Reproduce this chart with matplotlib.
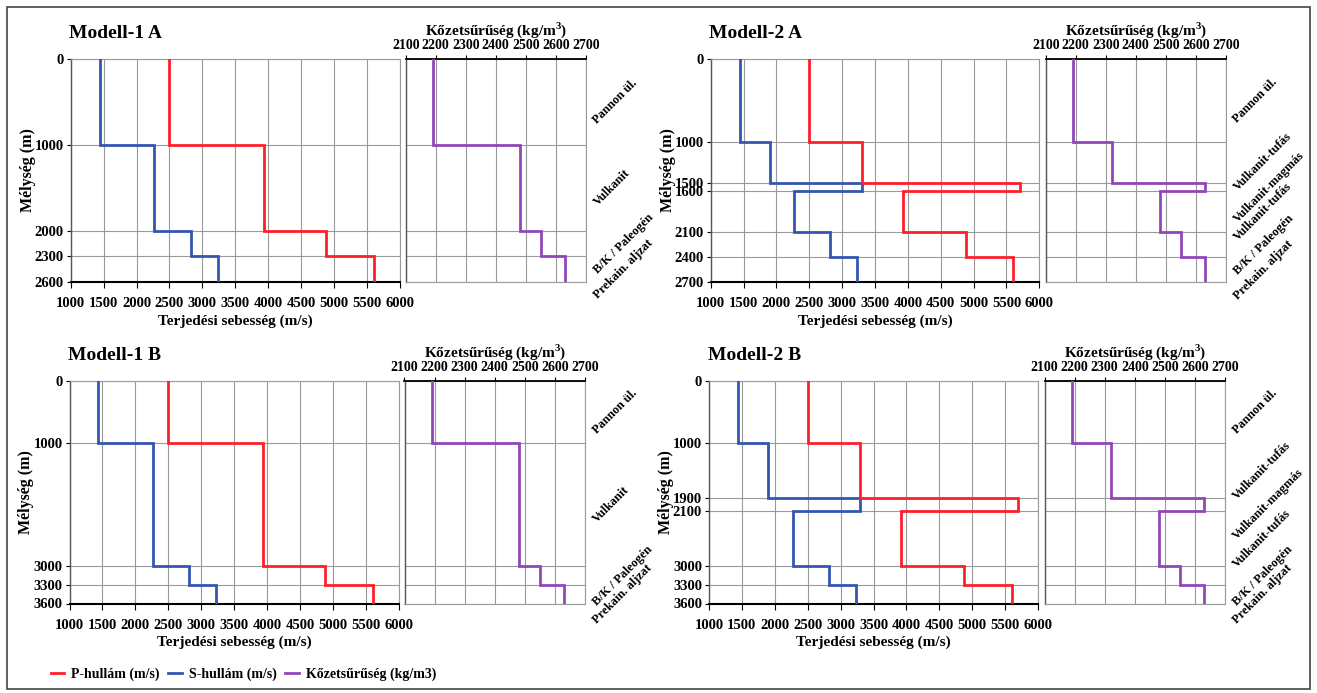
import numpy as np
import matplotlib
matplotlib.use("Agg")
import matplotlib.pyplot as plt
from matplotlib.lines import Line2D
from matplotlib.patches import Rectangle
import matplotlib.transforms as mtransforms

# ---------------- data ----------------
layers_1 = ["Pannon ül.", "Vulkanit", "B/K / Paleogén", "Prekain. aljzat"]
depth_1A = [0, 1000, 2000, 2300, 2600]
depth_1B = [0, 1000, 3000, 3300, 3600]
vp_1 = [2500, 3930, 4880, 5600]
vs_1 = [1440, 2270, 2820, 3230]
rho_1 = [2190, 2480, 2550, 2630]

layers_2 = ["Pannon ül.", "Vulkanit-tufás", "Vulkanit-magmás", "Vulkanit-tufás",
            "B/K / Paleogén", "Prekain. aljzat"]
depth_2A = [0, 1000, 1500, 1600, 2100, 2400, 2700]
depth_2B = [0, 1000, 1900, 2100, 3000, 3300, 3600]
vp_2 = [2500, 3300, 5700, 3920, 4880, 5600]
vs_2 = [1440, 1900, 3300, 2270, 2820, 3230]
rho_2 = [2190, 2320, 2630, 2480, 2550, 2630]

titles = ["Modell-1 A", "Modell-2 A", "Modell-1 B", "Modell-2 B"]
vel_ticks = [1000, 1500, 2000, 2500, 3000, 3500, 4000, 4500, 5000, 5500, 6000]
rho_ticks = [2100, 2200, 2300, 2400, 2500, 2600, 2700]

xlabel_vel = "Terjedési sebesség (m/s)"
ylabel = "Mélység (m)"
xlabel_rho = r"Kőzetsűrűség (kg/m$^{\mathbf{3}}$)"
legend_labels = ["P-hullám (m/s)", "S-hullám (m/s)", "Kőzetsűrűség (kg/m3)"]

C_P = "#ff1f2b"
C_S = "#3556b0"
C_R = "#8f47b8"
GRID = "#9a9a9a"

# ---------------- style ----------------
plt.rcParams["font.family"] = ["Liberation Serif", "DejaVu Serif"]
plt.rcParams["font.weight"] = "bold"
plt.rcParams["axes.labelweight"] = "bold"
plt.rcParams["mathtext.fontset"] = "custom"
plt.rcParams["mathtext.rm"] = "Liberation Serif:bold"
plt.rcParams["mathtext.bf"] = "Liberation Serif:bold"

W, H = 1317, 693
fig = plt.figure(figsize=(W / 100, H / 100), dpi=100)

VEL_FS = 10.5
RHO_FS = 10
LABEL_FS = 11


def pos(l, r, t, b):
    return [l / W, 1 - b / H, (r - l) / W, (b - t) / H]


def step_xy(vals, depths):
    xs = np.repeat(np.asarray(vals, float), 2)
    d = np.asarray(depths, float)
    ys = np.concatenate([[d[0]], np.repeat(d[1:-1], 2), [d[-1]]])
    return xs, ys


panels = [
    dict(title=titles[0], depths=depth_1A, vp=vp_1, vs=vs_1, rho=rho_1, layers=layers_1,
         vel=(70.7, 400, 59, 282), den=(405.7, 585.7, 59, 282), ty=34),
    dict(title=titles[1], depths=depth_2A, vp=vp_2, vs=vs_2, rho=rho_2, layers=layers_2,
         vel=(710.7, 1039.3, 59, 282), den=(1045.7, 1225.7, 59, 282), ty=34),
    dict(title=titles[2], depths=depth_1B, vp=vp_1, vs=vs_1, rho=rho_1, layers=layers_1,
         vel=(69.5, 399, 381, 603.5), den=(404.5, 585, 381, 603.5), ty=355),
    dict(title=titles[3], depths=depth_2B, vp=vp_2, vs=vs_2, rho=rho_2, layers=layers_2,
         vel=(709, 1038, 381, 603.5), den=(1044.5, 1225, 381, 603.5), ty=355),
]

for p in panels:
    d = p["depths"]
    dmax = d[-1]
    # ---- velocity axis ----
    ax = fig.add_axes(pos(*p["vel"]))
    xs, ys = step_xy(p["vs"], d)
    ax.plot(xs, ys, color=C_S, lw=2.0, zorder=3, solid_joinstyle="miter")
    xs, ys = step_xy(p["vp"], d)
    ax.plot(xs, ys, color=C_P, lw=2.0, zorder=3, solid_joinstyle="miter")
    ax.set_xlim(1000, 6000)
    ax.set_ylim(dmax, 0)
    ax.set_xticks(vel_ticks)
    ax.set_yticks(d)
    ax.set_yticklabels([str(v) for v in d])
    ax.grid(True, color=GRID, lw=0.8, zorder=1)
    ax.tick_params(axis="x", direction="out", length=4, width=0.8, labelsize=VEL_FS, pad=7)
    ax.tick_params(axis="y", direction="out", length=3, width=0.8, labelsize=VEL_FS, pad=2)
    for s in ("top", "right"):
        ax.spines[s].set_color(GRID)
        ax.spines[s].set_linewidth(0.8)
    ax.spines["left"].set_color("#555555")
    ax.spines["left"].set_linewidth(1.0)
    ax.spines["bottom"].set_color("black")
    ax.spines["bottom"].set_linewidth(1.5)
    ax.set_xlabel(xlabel_vel, fontsize=LABEL_FS, labelpad=3)
    ax.set_ylabel(ylabel, fontsize=11.5)
    ax.yaxis.set_label_coords(-35 / (p["vel"][1] - p["vel"][0]), 0.5)
    fig.text(p["vel"][0] / W - 0.001, 1 - p["ty"] / H, p["title"], fontsize=14,
             fontweight="bold", ha="left", va="center")

    # ---- density axis ----
    ad = fig.add_axes(pos(*p["den"]))
    xs, ys = step_xy(p["rho"], d)
    ad.plot(xs, ys, color=C_R, lw=2.0, zorder=3, solid_joinstyle="miter")
    ad.set_xlim(2100, 2700)
    ad.set_ylim(dmax, 0)
    ad.set_xticks(rho_ticks)
    ad.set_yticks(d)
    ad.set_yticklabels([])
    ad.xaxis.tick_top()
    ad.xaxis.set_label_position("top")
    ad.grid(True, color=GRID, lw=0.8, zorder=1)
    ad.tick_params(axis="x", direction="out", length=3, width=0.8, labelsize=RHO_FS, pad=2)
    ad.tick_params(axis="y", length=0)
    for s in ("bottom", "right"):
        ad.spines[s].set_color(GRID)
        ad.spines[s].set_linewidth(0.8)
    ad.spines["left"].set_color("#555555")
    ad.spines["left"].set_linewidth(1.0)
    ad.spines["top"].set_color("black")
    ad.spines["top"].set_linewidth(1.3)
    ad.set_xlabel(xlabel_rho, fontsize=LABEL_FS, labelpad=3)

    # ---- layer labels ----
    trans = mtransforms.blended_transform_factory(ad.transAxes, ad.transData)
    for i, lab in enumerate(p["layers"]):
        mid = 0.5 * (d[i] + d[i + 1])
        ad.text(1.03, mid, lab, transform=trans, rotation=45, ha="left",
                va="center", fontsize=9, fontweight="bold", clip_on=False)

# ---------------- legend ----------------
handles = [Line2D([], [], color=c, lw=2.0) for c in (C_P, C_S, C_R)]
fig.legend(handles, legend_labels, loc="center left",
           bbox_to_anchor=(38 / W, 1 - 674 / H), ncol=3, frameon=False,
           handlelength=1.0, handletextpad=0.5, columnspacing=0.6,
           prop={"family": "Liberation Serif", "weight": "bold", "size": 10})

# ---------------- border ----------------
fig.patches.append(Rectangle((7 / W, 1 - 689 / H), (1310 - 7) / W, (689 - 7) / H,
                             transform=fig.transFigure, fill=False,
                             ec="#444444", lw=1.2))

fig.savefig("out.png", dpi=100)
